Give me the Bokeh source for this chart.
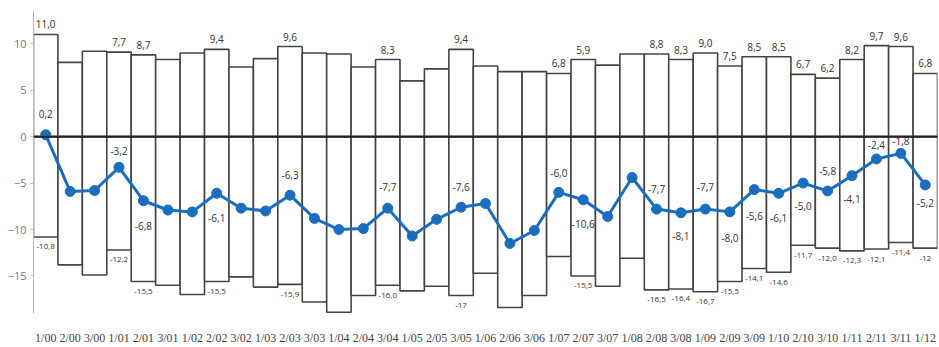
from bokeh.plotting import figure
from bokeh.models import ColumnDataSource, FixedTicker, Span, Range1d
from bokeh.core.properties import value
from bokeh.embed import file_html
from bokeh.resources import INLINE

# ---- data ----
periods = ["1/00", "2/00", "3/00", "1/01", "2/01", "3/01", "1/02", "2/02", "3/02",
           "1/03", "2/03", "3/03", "1/04", "2/04", "3/04", "1/05", "2/05", "3/05",
           "1/06", "2/06", "3/06", "1/07", "2/07", "3/07", "1/08", "2/08", "3/08",
           "1/09", "2/09", "3/09", "1/10", "2/10", "3/10", "1/11", "2/11", "3/11", "1/12"]

positive = [11.0, 8.0, 9.2, 9.1, 8.8, 8.3, 9.0, 9.4, 7.5, 8.4, 9.7, 9.0, 8.9, 7.5, 8.3,
            6.0, 7.3, 9.4, 7.6, 7.0, 7.0, 6.8, 8.3, 7.7, 8.9, 8.9, 8.3, 9.0, 7.6, 8.6,
            8.6, 6.7, 6.3, 8.3, 9.8, 9.7, 6.8]

negative = [-10.8, -13.8, -14.9, -12.2, -15.6, -16.0, -17.0, -15.6, -15.1, -16.2, -15.9,
            -17.8, -18.9, -17.1, -16.0, -16.6, -16.1, -17.1, -14.7, -18.4, -17.1, -12.9,
            -15.0, -16.1, -13.1, -16.5, -16.4, -16.7, -15.6, -14.2, -14.6, -11.7, -12.0,
            -12.3, -12.1, -11.4, -12.0]

balance = [0.2, -5.9, -5.8, -3.3, -6.9, -7.9, -8.1, -6.1, -7.7, -8.0, -6.3, -8.8, -10.0,
           -9.9, -7.7, -10.7, -8.9, -7.6, -7.2, -11.5, -10.1, -6.0, -6.8, -8.6, -4.4,
           -7.8, -8.2, -7.8, -8.1, -5.7, -6.1, -5.0, -5.85, -4.2, -2.4, -1.8, -5.2]

positive_labels = {0: "11,0", 3: "7,7", 4: "8,7", 7: "9,4", 10: "9,6", 14: "8,3", 17: "9,4",
                   21: "6,8", 22: "5,9", 25: "8,8", 26: "8,3", 27: "9,0", 28: "7,5", 29: "8,5",
                   30: "8,5", 31: "6,7", 32: "6,2", 33: "8,2", 34: "9,7", 35: "9,6", 36: "6,8"}

negative_labels = {0: "-10,8", 3: "-12,2", 4: "-15,5", 7: "-15,5", 10: "-15,9", 14: "-16,0",
                   17: "-17", 22: "-15,5", 25: "-16,5", 26: "-16,4", 27: "-16,7", 28: "-15,5",
                   29: "-14,1", 30: "-14,6", 31: "-11,7", 32: "-12,0", 33: "-12,3", 34: "-12,1",
                   35: "-11,4", 36: "-12"}

balance_labels = {0: "0,2", 3: "-3,2", 4: "-6,8", 7: "-6,1", 10: "-6,3", 14: "-7,7", 17: "-7,6",
                  21: "-6,0", 22: "-10,6", 25: "-7,7", 26: "-8,1", 27: "-7,7", 28: "-8,0",
                  29: "-5,6", 30: "-6,1", 31: "-5,0", 32: "-5,8", 33: "-4,1", 34: "-2,4",
                  35: "-1,8", 36: "-5,2"}

# ---- layout / style (screen offsets of the line labels, px; negative = up) ----
BAL_OFFSETS = {0: -21, 3: -16, 4: 25, 7: 25, 10: -20, 14: -21, 17: -20, 21: -19, 22: 24,
               25: -20, 26: 23, 27: -22, 28: 26, 29: 26, 30: 25, 31: 23, 32: -20, 33: 23,
               34: -14, 35: -12, 36: 18}

BLUE = "#1a6ebd"
OUTLINE = "#444444"

xs = list(range(len(periods)))

p = figure(width=939, height=347, output_backend="svg", toolbar_location=None,
           x_range=Range1d(-0.5, len(periods) - 0.5), y_range=Range1d(-19.04, 13.58),
           min_border_left=33, min_border_right=2, min_border_top=10, min_border_bottom=32)
p.outline_line_color = None
p.xgrid.visible = False
p.ygrid.visible = False
p.background_fill_color = "white"
p.border_fill_color = "white"

bars = ColumnDataSource(dict(x=xs, pos=positive, neg=negative, bal=balance))

p.vbar(x="x", width=1, bottom=0, top="pos", source=bars, fill_color="white",
       line_color=OUTLINE, line_width=1.6)
p.vbar(x="x", width=1, bottom="neg", top=0, source=bars, fill_color="white",
       line_color=OUTLINE, line_width=1.6)

p.add_layout(Span(location=0, dimension="width", line_color="#222222", line_width=2))

p.line(x="x", y="bal", source=bars, line_color=BLUE, line_width=3)
p.scatter(x="x", y="bal", source=bars, size=10, fill_color=BLUE, line_color=BLUE)

# labels
pl = ColumnDataSource(dict(x=list(positive_labels.keys()),
                           y=[positive[i] for i in positive_labels],
                           t=list(positive_labels.values())))
p.text(x="x", y="y", text="t", source=pl, text_align="center", text_baseline="middle",
       y_offset=-10, text_font=value("Open Sans"), text_font_size="10px", text_color="#333333")

nl = ColumnDataSource(dict(x=list(negative_labels.keys()),
                           y=[negative[i] for i in negative_labels],
                           t=list(negative_labels.values())))
p.text(x="x", y="y", text="t", source=nl, text_align="center", text_baseline="middle",
       y_offset=10, text_font=value("Open Sans"), text_font_size="8px", text_color="#333333")

bl = ColumnDataSource(dict(x=list(balance_labels.keys()),
                           y=[balance[i] for i in balance_labels],
                           t=list(balance_labels.values()),
                           dy=[BAL_OFFSETS[i] for i in balance_labels]))
p.text(x="x", y="y", text="t", source=bl, text_align="center", text_baseline="middle",
       y_offset="dy", text_font=value("Open Sans"), text_font_size="10px", text_color="#333333")

# axes
p.xaxis.ticker = FixedTicker(ticks=xs)
p.xaxis.major_label_overrides = {i: lab for i, lab in enumerate(periods)}
p.xaxis.axis_line_color = None
p.xaxis.major_tick_line_color = None
p.xaxis.minor_tick_line_color = None
p.xaxis.major_label_standoff = 11
p.xaxis.major_label_text_font = "Liberation Sans Narrow"
p.xaxis.major_label_text_font_size = "12px"
p.xaxis.major_label_text_color = "#444444"

p.yaxis.ticker = FixedTicker(ticks=[-15, -10, -5, 0, 5, 10])
p.yaxis.axis_line_color = "#bbbbbb"
p.yaxis.major_tick_line_color = "#bbbbbb"
p.yaxis.major_tick_out = 3
p.yaxis.major_tick_in = 0
p.yaxis.minor_tick_line_color = None
p.yaxis.major_label_standoff = 4
p.yaxis.major_label_text_font = "Open Sans"
p.yaxis.major_label_text_font_size = "11px"
p.yaxis.major_label_text_color = "#777777"

open("out.html", "w").write(file_html(p, INLINE))
